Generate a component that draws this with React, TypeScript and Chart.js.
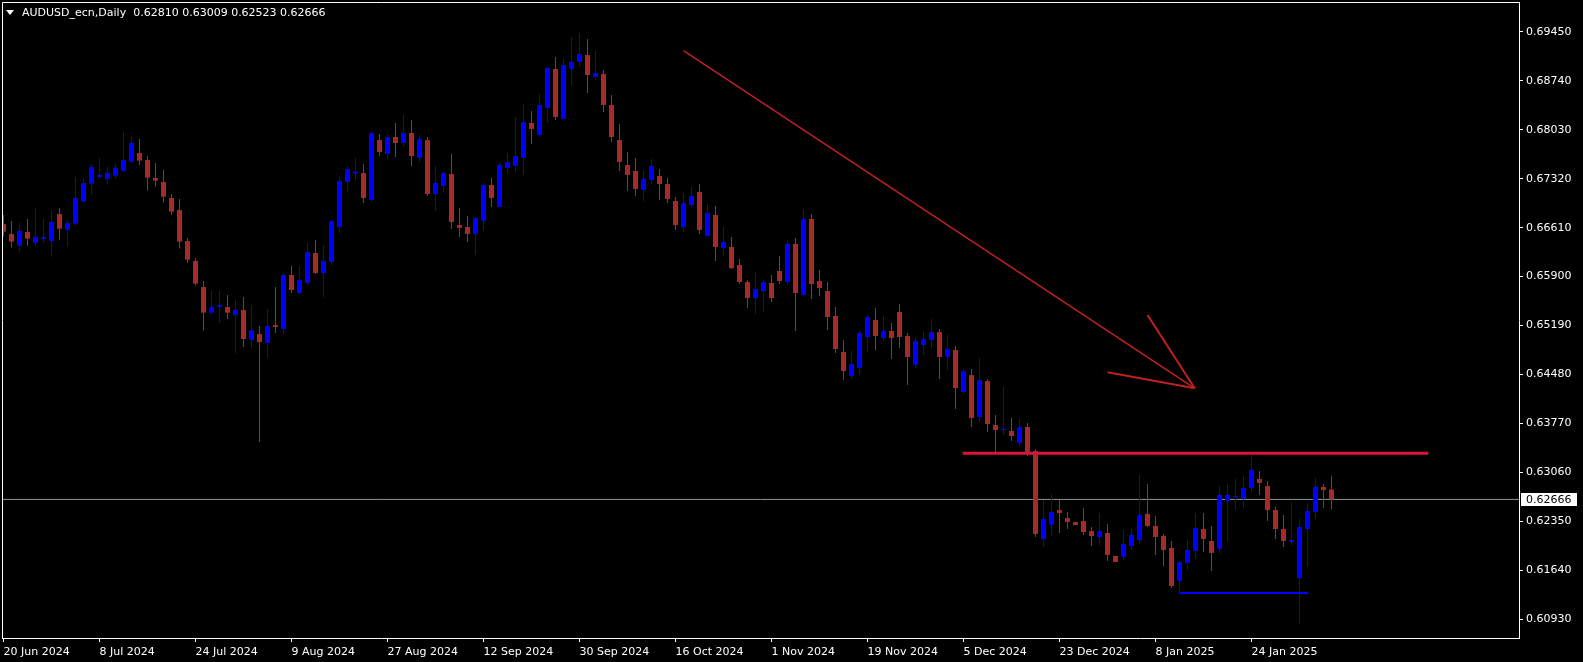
import React, { useEffect, useRef } from "react";
import { Chart, registerables } from "chart.js";

Chart.register(...registerables);

const symbolTitle = "AUDUSD_ecn,Daily";

const dateLabels = [
  "20 Jun 2024", "8 Jul 2024", "24 Jul 2024", "9 Aug 2024", "27 Aug 2024",
  "12 Sep 2024", "30 Sep 2024", "16 Oct 2024", "1 Nov 2024", "19 Nov 2024",
  "5 Dec 2024", "23 Dec 2024", "8 Jan 2025", "24 Jan 2025",
];
const dateLabelBars = [0, 12, 24, 36, 48, 60, 72, 84, 96, 108, 120, 132, 144, 156];

const priceTicks = [
  0.6093, 0.6164, 0.6235, 0.6306, 0.6377, 0.6448, 0.6519,
  0.659, 0.6661, 0.6732, 0.6803, 0.6874, 0.6945,
];

const opens = [
  0.66664, 0.66518, 0.66349, 0.66547, 0.66388, 0.66446, 0.66417, 0.66809, 0.66581, 0.66668,
  0.66988, 0.67249, 0.67346, 0.67317, 0.67365, 0.67433, 0.67568, 0.67694, 0.67592, 0.67331,
  0.67273, 0.67041, 0.66867, 0.66417, 0.66127, 0.65749, 0.65377, 0.65458, 0.65458, 0.65342,
  0.65415, 0.6498, 0.65067, 0.64936, 0.65197, 0.65139, 0.65923, 0.65662, 0.65807, 0.66242,
  0.65952, 0.66112, 0.6662, 0.67273, 0.67394, 0.67403, 0.67012, 0.67882, 0.67679, 0.67926,
  0.67839, 0.67984, 0.67621, 0.67882, 0.67099, 0.67215, 0.67389, 0.66649, 0.6662, 0.66519,
  0.66707, 0.6723, 0.6691, 0.67477, 0.67506, 0.67622, 0.6813, 0.67955, 0.68347, 0.68913,
  0.68188, 0.68913, 0.69015, 0.69117, 0.68797, 0.68841, 0.68391, 0.67883, 0.6752, 0.67433,
  0.67157, 0.67302, 0.6736, 0.67243, 0.66997, 0.66619, 0.66939, 0.67127, 0.66489, 0.66794,
  0.66315, 0.66329, 0.66068, 0.65821, 0.65589, 0.65691, 0.65807, 0.65981, 0.65821, 0.66373,
  0.65633, 0.66736, 0.65836, 0.65691, 0.65328, 0.64805, 0.64457, 0.64573, 0.65023, 0.6527,
  0.6501, 0.6511, 0.65386, 0.65037, 0.64616, 0.64907, 0.64979, 0.65095, 0.64733, 0.64834,
  0.64225, 0.64471, 0.63862, 0.64384, 0.63746, 0.63673, 0.63659, 0.63484, 0.63717, 0.63368,
  0.62091, 0.62294, 0.62512, 0.62396, 0.62338, 0.62352, 0.62207, 0.6212, 0.62179, 0.61845,
  0.61831, 0.6199, 0.62077, 0.62455, 0.62281, 0.62136, 0.61961, 0.61482, 0.61744, 0.61918,
  0.62237, 0.62063, 0.61947, 0.62643, 0.62702, 0.62673, 0.62832, 0.62963, 0.62861, 0.62513,
  0.62237, 0.62048, 0.61526, 0.62237, 0.62484, 0.62847, 0.6281,
];

const highs = [
  0.66794, 0.66707, 0.66678, 0.66736, 0.66896, 0.66736, 0.66852, 0.66896, 0.66722, 0.67346,
  0.67331, 0.67534, 0.67621, 0.67491, 0.67534, 0.67999, 0.67941, 0.67897, 0.6765, 0.67549,
  0.67447, 0.67099, 0.67026, 0.6646, 0.6617, 0.65836, 0.65691, 0.65691, 0.65633, 0.6556,
  0.65604, 0.65487, 0.65183, 0.65429, 0.65749, 0.65937, 0.66054, 0.66054, 0.66387, 0.66431,
  0.66358, 0.66721, 0.67345, 0.67505, 0.67621, 0.67534, 0.67998, 0.67969, 0.67969, 0.68129,
  0.68245, 0.68173, 0.67955, 0.67926, 0.67505, 0.67418, 0.6768, 0.66896, 0.6678, 0.66765,
  0.67259, 0.67331, 0.67549, 0.67694, 0.68217, 0.68405, 0.68304, 0.68551, 0.68942, 0.69088,
  0.69059, 0.69378, 0.69436, 0.69349, 0.69175, 0.68899, 0.68536, 0.68115, 0.67709, 0.67622,
  0.67433, 0.67607, 0.67462, 0.67331, 0.67055, 0.67113, 0.672, 0.67243, 0.66953, 0.66924,
  0.66619, 0.66474, 0.66155, 0.6585, 0.65966, 0.6585, 0.65923, 0.66198, 0.66416, 0.6646,
  0.66881, 0.66808, 0.65995, 0.65821, 0.65458, 0.64979, 0.6482, 0.6511, 0.65342, 0.65444,
  0.65328, 0.65226, 0.65502, 0.65081, 0.65008, 0.65095, 0.65284, 0.65139, 0.65052, 0.64892,
  0.64558, 0.64558, 0.64718, 0.64413, 0.63891, 0.64297, 0.63847, 0.63833, 0.63775, 0.63397,
  0.62657, 0.62744, 0.62657, 0.62483, 0.62338, 0.62541, 0.62265, 0.62468, 0.6231, 0.61845,
  0.62223, 0.62252, 0.63021, 0.6289, 0.62426, 0.62165, 0.62063, 0.61773, 0.62077, 0.62469,
  0.62469, 0.62281, 0.62861, 0.6289, 0.62963, 0.63006, 0.63311, 0.63079, 0.62934, 0.62556,
  0.6244, 0.62629, 0.62382, 0.62614, 0.62977, 0.6289, 0.63009,
];

const lows = [
  0.6648, 0.6632, 0.66262, 0.66349, 0.66349, 0.66388, 0.66189, 0.66436, 0.66335, 0.66639,
  0.66988, 0.67089, 0.67317, 0.67234, 0.67321, 0.67423, 0.67539, 0.67525, 0.67147, 0.67205,
  0.66973, 0.66799, 0.66306, 0.66102, 0.65769, 0.65115, 0.65348, 0.65226, 0.65284, 0.64791,
  0.64878, 0.64863, 0.63499, 0.64723, 0.65081, 0.65067, 0.65662, 0.65647, 0.65778, 0.65937,
  0.65604, 0.66068, 0.66528, 0.67128, 0.67302, 0.66968, 0.66982, 0.6765, 0.67602, 0.67636,
  0.67781, 0.67505, 0.67563, 0.6707, 0.66852, 0.67133, 0.66591, 0.66475, 0.66402, 0.66214,
  0.66562, 0.6691, 0.6691, 0.67404, 0.67418, 0.67375, 0.67825, 0.67941, 0.6813, 0.68173,
  0.68188, 0.68681, 0.68942, 0.68565, 0.68754, 0.68289, 0.67854, 0.67433, 0.67143, 0.6707,
  0.66998, 0.67244, 0.67012, 0.66968, 0.66576, 0.66552, 0.6691, 0.66518, 0.66489, 0.66126,
  0.66199, 0.6601, 0.65792, 0.65444, 0.65357, 0.65386, 0.65531, 0.65792, 0.65778, 0.6511,
  0.65618, 0.65574, 0.65618, 0.65124, 0.64791, 0.64399, 0.64413, 0.64471, 0.64805, 0.64834,
  0.64965, 0.64704, 0.64863, 0.64326, 0.64573, 0.64762, 0.64863, 0.64413, 0.64544, 0.63978,
  0.64196, 0.63717, 0.63789, 0.63644, 0.63354, 0.63601, 0.63513, 0.63441, 0.63296, 0.6212,
  0.61975, 0.62135, 0.62178, 0.62236, 0.62294, 0.62149, 0.61989, 0.62004, 0.61773, 0.61758,
  0.61787, 0.61932, 0.62034, 0.62266, 0.6186, 0.617, 0.61381, 0.61308, 0.61642, 0.61802,
  0.61903, 0.61628, 0.61889, 0.62063, 0.62513, 0.62542, 0.62774, 0.62731, 0.62353, 0.62092,
  0.61976, 0.62005, 0.60858, 0.61686, 0.62382, 0.62542, 0.62523,
];

const closes = [
  0.66552, 0.66407, 0.66562, 0.66451, 0.66475, 0.66475, 0.66693, 0.66596, 0.66678, 0.67041,
  0.67259, 0.67491, 0.67375, 0.67404, 0.67481, 0.67592, 0.67839, 0.67583, 0.67336, 0.67292,
  0.6706, 0.66843, 0.66407, 0.66146, 0.65798, 0.65377, 0.65459, 0.65487, 0.65376, 0.65415,
  0.64994, 0.65125, 0.64951, 0.65183, 0.65168, 0.65923, 0.65705, 0.6585, 0.66257, 0.65952,
  0.66126, 0.66707, 0.67287, 0.67461, 0.67423, 0.67041, 0.67984, 0.67708, 0.67926, 0.67839,
  0.67984, 0.6765, 0.67897, 0.67099, 0.67258, 0.67404, 0.66693, 0.66606, 0.66519, 0.66751,
  0.6723, 0.67041, 0.6752, 0.67564, 0.67651, 0.68144, 0.68043, 0.68391, 0.68928, 0.68217,
  0.68971, 0.69015, 0.69131, 0.68826, 0.68855, 0.68391, 0.67926, 0.67564, 0.67375, 0.67172,
  0.67317, 0.67506, 0.67244, 0.67026, 0.66648, 0.66968, 0.67069, 0.66576, 0.66823, 0.66329,
  0.66402, 0.66024, 0.65821, 0.65589, 0.6572, 0.65821, 0.65589, 0.65836, 0.66373, 0.65662,
  0.66736, 0.65792, 0.65734, 0.65313, 0.64849, 0.64529, 0.64631, 0.65081, 0.65313, 0.65037,
  0.6511, 0.6501, 0.65023, 0.64733, 0.64965, 0.64994, 0.65095, 0.64733, 0.64849, 0.64283,
  0.64529, 0.63847, 0.64399, 0.6376, 0.63673, 0.63688, 0.63586, 0.63717, 0.63339, 0.62164,
  0.62381, 0.62483, 0.62468, 0.62338, 0.62294, 0.62193, 0.62135, 0.62207, 0.6186, 0.61758,
  0.62019, 0.6215, 0.6244, 0.62281, 0.62121, 0.61932, 0.6141, 0.61758, 0.61932, 0.62252,
  0.62092, 0.61889, 0.62731, 0.62731, 0.62716, 0.62832, 0.63093, 0.62905, 0.62513, 0.62237,
  0.62063, 0.62077, 0.62266, 0.62498, 0.62847, 0.62803, 0.62666,
];

// Drawn objects, in (bar index, price) coordinates
const trendLine = [{ x: 85.0, y: 0.69181 }, { x: 148.9, y: 0.64279 }];
const arrowLegUpper = [{ x: 143.0, y: 0.65343 }, { x: 148.9, y: 0.64279 }];
const arrowLegLower = [{ x: 138.0, y: 0.64511 }, { x: 148.9, y: 0.64279 }];
const resistanceLine = [{ x: 119.9, y: 0.63335 }, { x: 178.1, y: 0.63335 }];
const supportLine = [{ x: 147.0, y: 0.61308 }, { x: 163.1, y: 0.61308 }];

const X_MIN = -0.1875;
const X_MAX = 189.4375;
const Y_MIN = 0.606546;
const Y_MAX = 0.698854;

const FONT = '"DejaVu Sans", sans-serif';
const BULL = "#0000FF";
const BEAR = "#A52A2A";

export default function App() {
  const canvasRef = useRef<HTMLCanvasElement | null>(null);

  useEffect(() => {
    const canvas = canvasRef.current;
    if (!canvas) return;
    const n = opens.length;
    const idx = opens.map((_, i) => i);
    const colors = idx.map((i) => (closes[i] >= opens[i] ? BULL : BEAR));
    const bodyData = idx.map((i) => ({ x: i, y: [opens[i], closes[i]] }));
    const wickData = idx.map((i) => ({ x: i, y: [lows[i], highs[i]] }));
    const last = closes[n - 1];
    const bidLine = [{ x: X_MIN, y: last }, { x: X_MAX, y: last }];

    const framePlugin = {
      id: "mtFrame",
      afterDraw(chart: any) {
        const { ctx, chartArea } = chart;
        ctx.save();
        ctx.strokeStyle = "#ffffff";
        ctx.lineWidth = 1;
        ctx.beginPath();
        ctx.moveTo(chartArea.left + 0.5, chartArea.bottom + 0.5);
        ctx.lineTo(chartArea.left + 0.5, chartArea.top + 0.5);
        ctx.lineTo(chartArea.right + 0.5, chartArea.top + 0.5);
        ctx.stroke();
        const y = chart.scales.y.getPixelForValue(last);
        const bx = chartArea.right + 2;
        ctx.fillStyle = "#ffffff";
        ctx.fillRect(bx, Math.round(y - 6.5), 56, 13);
        ctx.fillStyle = "#000000";
        ctx.font = "11px " + FONT;
        ctx.textBaseline = "middle";
        ctx.textAlign = "left";
        ctx.fillText(last.toFixed(5), chartArea.right + 7, Math.round(y - 6.5) + 7);
        ctx.restore();
      },
    };

    const lineDs = (data: any[], color: string, width: number, order: number) => ({
      type: "line" as const,
      data,
      borderColor: color,
      borderWidth: width,
      pointRadius: 0,
      pointHoverRadius: 0,
      fill: false,
      tension: 0,
      order,
    });

    const chart = new Chart(canvas, {
      type: "bar",
      data: {
        datasets: [
          lineDs(bidLine, "#8C969C", 1, 10) as any,
          {
            type: "bar",
            data: wickData as any,
            backgroundColor: colors,
            borderWidth: 0,
            barThickness: 1,
            grouped: false,
            inflateAmount: 0,
            order: 5,
          },
          {
            type: "bar",
            data: bodyData as any,
            backgroundColor: colors,
            borderWidth: 0,
            barThickness: 5,
            minBarLength: 1,
            grouped: false,
            inflateAmount: 0,
            order: 4,
          },
          lineDs(supportLine, "#0000FF", 2, 3) as any,
          lineDs(trendLine, "#C02020", 1.5, 2) as any,
          lineDs(arrowLegUpper, "#C02020", 2, 2) as any,
          lineDs(arrowLegLower, "#C02020", 2, 2) as any,
          lineDs(resistanceLine, "#DC143C", 3, 1) as any,
        ],
      },
      options: {
        animation: false,
        responsive: false,
        devicePixelRatio: 1,
        events: [],
        layout: { padding: { left: 2, top: 2, right: 0, bottom: 0 } },
        plugins: { legend: { display: false }, tooltip: { enabled: false } },
        scales: {
          x: {
            type: "linear",
            min: X_MIN,
            max: X_MAX,
            offset: false,
            bounds: "data",
            afterBuildTicks: (s: any) => {
              s.ticks = dateLabelBars.map((v) => ({ value: v }));
            },
            afterFit: (s: any) => {
              s.height = 24;
              s.paddingLeft = 0;
              s.paddingRight = 0;
            },
            ticks: {
              autoSkip: false,
              maxRotation: 0,
              minRotation: 0,
              align: "start",
              color: "#ffffff",
              padding: 4,
              font: { family: FONT, size: 11 },
              callback: (_v: any, i: number) => dateLabels[i],
            },
            grid: {
              display: true,
              drawOnChartArea: false,
              drawTicks: true,
              tickLength: 4,
              color: "#ffffff",
              offset: false,
            },
            border: { display: true, color: "#ffffff", width: 1 },
          },
          y: {
            type: "linear",
            position: "right",
            min: Y_MIN,
            max: Y_MAX,
            bounds: "data",
            afterBuildTicks: (s: any) => {
              s.ticks = priceTicks.map((v) => ({ value: v }));
            },
            afterFit: (s: any) => {
              s.width = 64;
              s.paddingTop = 0;
              s.paddingBottom = 0;
            },
            ticks: {
              autoSkip: false,
              color: "#ffffff",
              padding: 3,
              font: { family: FONT, size: 11 },
              callback: (v: any) => Number(v).toFixed(5),
            },
            grid: {
              display: true,
              drawOnChartArea: false,
              drawTicks: true,
              tickLength: 4,
              color: "#ffffff",
            },
            border: { display: true, color: "#ffffff", width: 1 },
          },
        },
      } as any,
      plugins: [framePlugin],
    });

    return () => chart.destroy();
  }, []);

  const header =
    symbolTitle +
    "  " +
    [opens, highs, lows, closes].map((a) => a[a.length - 1].toFixed(5)).join(" ");

  return (
    <div
      style={{
        position: "fixed",
        left: 0,
        top: 0,
        width: 1583,
        height: 662,
        background: "#000000",
        overflow: "hidden",
      }}
    >
      <canvas
        ref={canvasRef}
        width={1583}
        height={662}
        style={{ display: "block", width: 1583, height: 662 }}
      />
      <div
        style={{
          position: "absolute",
          left: 6,
          top: 10,
          width: 0,
          height: 0,
          borderLeft: "4.5px solid transparent",
          borderRight: "4.5px solid transparent",
          borderTop: "5px solid #ffffff",
        }}
      />
      <div
        style={{
          position: "absolute",
          left: 22,
          top: 6,
          fontFamily: FONT,
          fontSize: 11,
          lineHeight: "13px",
          color: "#ffffff",
          whiteSpace: "pre",
        }}
      >
        {header}
      </div>
    </div>
  );
}
